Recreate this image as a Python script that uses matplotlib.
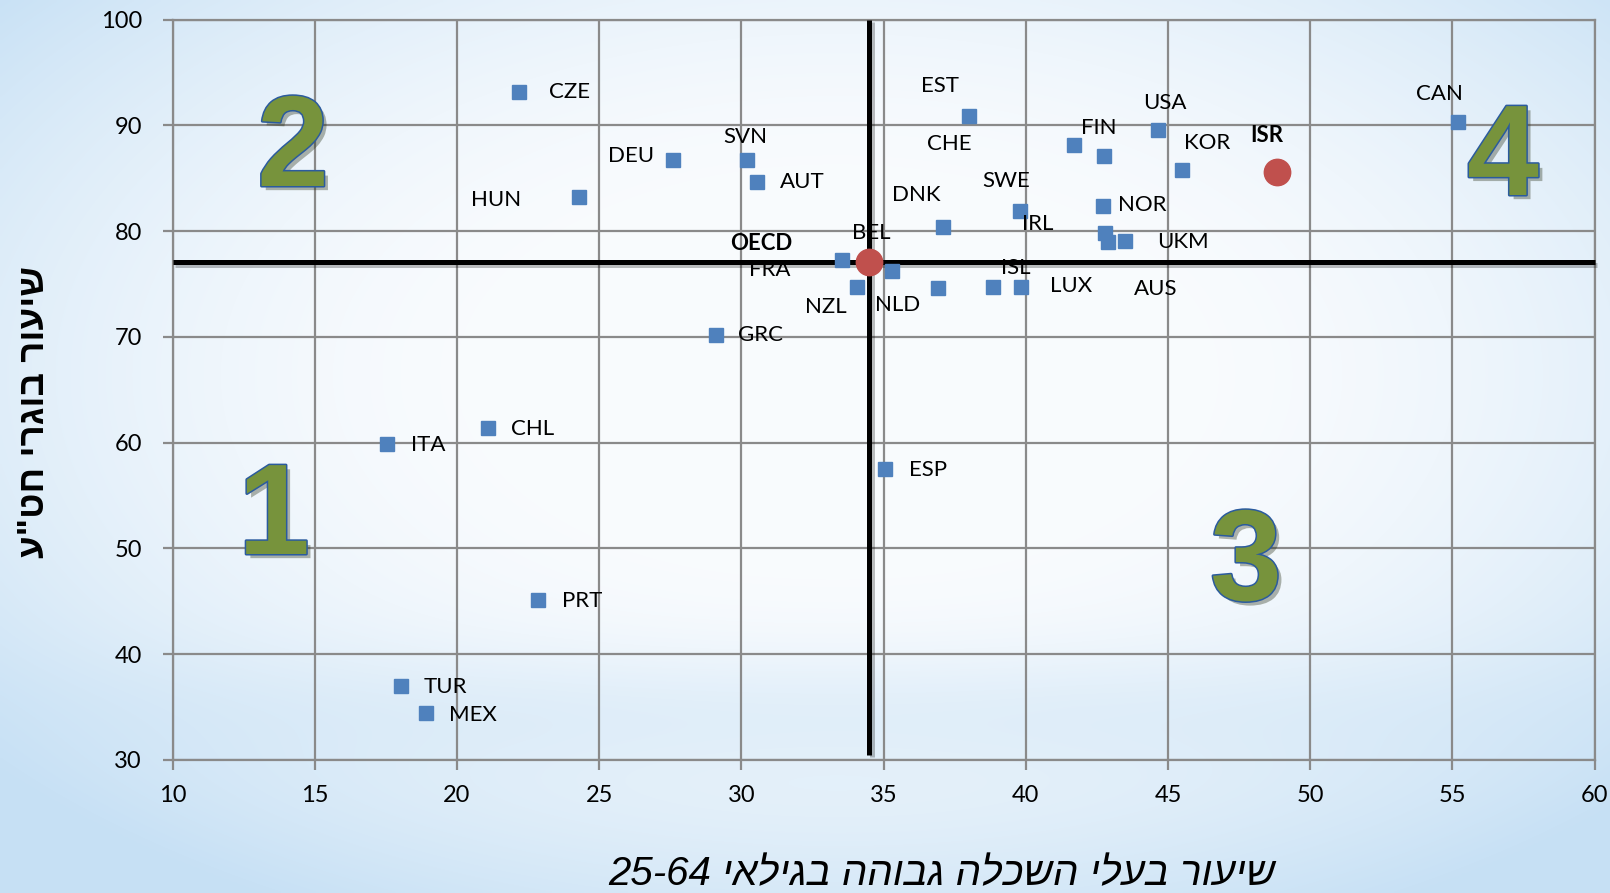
import matplotlib
matplotlib.use("Agg")
import matplotlib.pyplot as plt
import matplotlib.patheffects as pe
import numpy as np

# ---------------- data ----------------
countries = ["CZE", "HUN", "DEU", "SVN", "AUT", "EST", "CHE", "FIN", "USA", "KOR",
             "CAN", "SWE", "DNK", "NOR", "IRL", "UKM", "AUS", "FRA", "BEL", "NZL",
             "NLD", "ISL", "LUX", "GRC", "CHL", "ITA", "ESP", "PRT", "TUR", "MEX"]
tertiary = [22.2, 24.3, 27.6, 30.2, 30.55, 38.0, 41.7, 42.75, 44.65, 45.5,
            55.2, 39.8, 37.1, 42.7, 42.8, 42.9, 43.5, 33.55, 35.3, 34.05,
            36.9, 38.85, 39.85, 29.1, 21.1, 17.55, 35.05, 22.85, 18.05, 18.9]
upper_sec = [93.1, 83.2, 86.7, 86.7, 84.6, 90.9, 88.1, 87.1, 89.6, 85.8,
             90.3, 81.9, 80.4, 82.4, 79.8, 79.0, 79.1, 77.3, 76.2, 74.7,
             74.6, 74.7, 74.7, 70.2, 61.4, 59.9, 57.5, 45.1, 37.0, 34.4]

oecd_name, oecd_x, oecd_y = "OECD", 34.5, 77.05
isr_name, isr_x, isr_y = "ISR", 48.85, 85.6

x_ticks = [10, 15, 20, 25, 30, 35, 40, 45, 50, 55, 60]
y_ticks = [30, 40, 50, 60, 70, 80, 90, 100]

x_label = "שיעור בעלי השכלה גבוהה בגילאי 25-64"
y_label = 'שיעור בוגרי חט"ע'

# label offsets in pixels (right, up) relative to marker
label_offsets = [(50, 0), (-83, -3), (-42, 4), (-2, 23), (45, 0), (-29, 30), (-125, 1), (-5, 28),
                 (7, 27), (25, 27), (-19, 28), (-14, 30), (-27, 32), (40, 1), (-68, 9), (75, 0),
                 (30, -48), (-73, -10), (-21, 38), (-31, -20), (-40, -17), (23, 19), (50, 1),
                 (45, 0), (44, -1), (41, -1), (43, -1), (44, -1), (44, -1), (47, -2)]
oecd_offset = (-108, 19)
isr_offset = (-11, 36)

W, H = 1610, 893


def heb_visual(s):
    # matplotlib has no bidi support: build visual order manually
    parts = s.split(" ")
    out = []
    for p in reversed(parts):
        if any("\u0590" <= c <= "\u05ff" for c in p):
            out.append(p[::-1])
        else:
            out.append(p)
    return " ".join(out)


fig = plt.figure(figsize=(W / 100, H / 100), dpi=100)

# ---------------- background gradient ----------------
yy, xx = np.mgrid[0:1:300j, 0:1:540j]
r = np.sqrt(((xx - 0.52) / 0.62) ** 2 + ((yy - 0.42) / 0.62) ** 2)
t = np.clip((r - 0.35) / 0.75, 0, 1) ** 1.6
white = np.array([0.975, 0.985, 0.995])
blue = np.array([0.78, 0.88, 0.96])
img = white[None, None, :] * (1 - t[..., None]) + blue[None, None, :] * t[..., None]
band = np.exp(-((yy - 0.80) / 0.07) ** 2) * 0.35 * np.clip(1.2 - np.abs(xx - 0.5) * 1.2, 0, 1)
img = img * (1 - band[..., None]) + blue[None, None, :] * band[..., None]
bg = fig.add_axes([0, 0, 1, 1])
bg.imshow(img, aspect="auto", extent=[0, 1, 0, 1], origin="upper", interpolation="bilinear")
bg.set_xlim(0, 1)
bg.set_ylim(0, 1)
bg.axis("off")

# ---------------- main axes ----------------
left, right, top, bottom = 172.5, 1594.6, 19.5, 760
ax = fig.add_axes([left / W, 1 - bottom / H, (right - left) / W, (bottom - top) / H])
ax.set_facecolor("none")
ax.set_xlim(10, 60)
ax.set_ylim(30, 100)
ax.set_xticks(x_ticks)
ax.set_yticks(y_ticks)
grid_c = "#8a8a8a"
ax.grid(True, color=grid_c, linewidth=1.6, zorder=0)
for s in ax.spines.values():
    s.set_color(grid_c)
    s.set_linewidth(1.6)
ax.tick_params(axis="both", direction="out", length=7, width=1.6, color=grid_c,
               labelsize=17, labelcolor="black")
ax.tick_params(axis="y", pad=15)
ax.tick_params(axis="x", pad=11)
for lab in ax.get_xticklabels() + ax.get_yticklabels():
    lab.set_family("Lato")

# quadrant lines through OECD average
line_fx = [pe.SimpleLineShadow(offset=(2, -2), alpha=0.25), pe.Normal()]
ax.plot([10, 60], [oecd_y, oecd_y], color="black", lw=3.6, zorder=3,
        solid_capstyle="butt", path_effects=line_fx, clip_on=False)
ax.plot([oecd_x, oecd_x], [30.5, 100], color="black", lw=3.6, zorder=3,
        solid_capstyle="butt", path_effects=line_fx, clip_on=False)

# country markers
ax.plot(tertiary, upper_sec, linestyle="none", marker="s", markersize=10,
        color="#4F81BD", markeredgecolor="#4F81BD", zorder=4, clip_on=False)
ax.plot([oecd_x, isr_x], [oecd_y, isr_y], linestyle="none", marker="o",
        markersize=19, color="#C0504D", markeredgecolor="#C0504D", zorder=5, clip_on=False)

lab_font = dict(family="Lato", fontsize=16, color="black", ha="center", va="center")
for name, x, y, off in zip(countries, tertiary, upper_sec, label_offsets):
    ax.annotate(name, (x, y), xytext=off, textcoords="offset pixels", zorder=6, **lab_font)
ax.annotate(oecd_name, (oecd_x, oecd_y), xytext=oecd_offset, textcoords="offset pixels",
            fontweight="bold", zorder=6, **lab_font)
ax.annotate(isr_name, (isr_x, isr_y), xytext=isr_offset, textcoords="offset pixels",
            fontweight="bold", zorder=6, **lab_font)

# quadrant numbers
quad_fx = [pe.SimplePatchShadow(offset=(3, -3), alpha=0.35),
           pe.Stroke(linewidth=2.2, foreground="#2B5B9E"), pe.Normal()]
for txt, cx, base in [("2", 293, 186), ("1", 274, 554), ("3", 1246, 600), ("4", 1503, 195)]:
    fig.text(cx / W, 1 - base / H, txt, ha="center", va="baseline", fontsize=93,
             fontweight="bold", family="Liberation Sans", color="#77933C",
             path_effects=quad_fx, zorder=10)

# axis titles (Hebrew)
fig.text(942 / W, 1 - 874 / H, heb_visual(x_label), ha="center", va="center",
         fontsize=29, style="italic", family=["Liberation Sans", "DejaVu Sans"], color="black")
fig.text(35 / W, 1 - 412 / H, heb_visual(y_label), ha="center", va="center", rotation=90,
         fontsize=26.5, fontweight="bold", family=["Liberation Sans", "DejaVu Sans"], color="black")

fig.savefig("out.png", dpi=100)
